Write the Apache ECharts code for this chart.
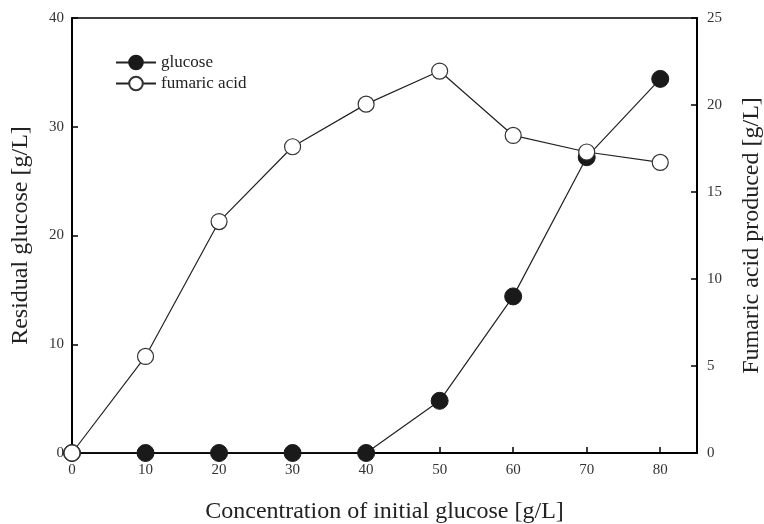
<!DOCTYPE html>
<html><head><meta charset="utf-8">
<script src="https://cdn.jsdelivr.net/npm/echarts@6/dist/echarts.min.js"></script>
<style>html,body{margin:0;padding:0;background:#fff}#c{width:764px;height:524px}</style>
</head><body><div id="c"></div>
<script>
const xValues = [0, 10, 20, 30, 40, 50, 60, 70, 80];
const glucose = [0, 0, 0, 0, 0, 4.8, 14.4, 27.2, 34.4];
const fumaric = [0, 5.55, 13.3, 17.6, 20.05, 21.95, 18.25, 17.3, 16.7];
const xTitle = 'Concentration of initial glucose [g/L]';
const yLeftTitle = 'Residual glucose [g/L]';
const yRightTitle = 'Fumaric acid produced [g/L]';

const font = 'Liberation Serif, Times New Roman, serif';
const chart = echarts.init(document.getElementById('c'));
const axisCommon = {
  axisLine: {show: true, lineStyle: {color: '#000', width: 2}},
  axisTick: {show: true, inside: true, length: 6, lineStyle: {color: '#000', width: 1.5}},
  splitLine: {show: false},
  axisLabel: {fontFamily: font, fontSize: 15, color: '#333'},
  nameTextStyle: {fontFamily: font, fontSize: 24, color: '#222'}
};
chart.setOption({
  animation: false,
  backgroundColor: '#fff',
  grid: {left: 72, right: 67, top: 18, bottom: 71, containLabel: false, outerBoundsMode: 'none',
         show: true, borderColor: '#000', borderWidth: 1.5},
  legend: {
    left: 110, top: 49, orient: 'vertical', itemGap: 4, itemWidth: 40, itemHeight: 17,
    textStyle: {fontFamily: font, fontSize: 17, color: '#222'},
    data: ['glucose', 'fumaric acid']
  },
  xAxis: Object.assign({}, axisCommon, {
    type: 'value', min: 0, max: 85, interval: 10,
    name: xTitle, nameLocation: 'middle', nameGap: 47,
    axisLabel: Object.assign({}, axisCommon.axisLabel, {margin: 10, formatter: v => v > 80 ? '' : v}),
    axisTick: Object.assign({}, axisCommon.axisTick, {customValues: xValues})
  }),
  yAxis: [
    Object.assign({}, axisCommon, {
      type: 'value', min: 0, max: 40, interval: 10, position: 'left',
      name: yLeftTitle, nameLocation: 'middle', nameGap: 39, nameRotate: 90,
      axisLabel: Object.assign({}, axisCommon.axisLabel, {margin: 8})
    }),
    Object.assign({}, axisCommon, {
      type: 'value', min: 0, max: 25, interval: 5, position: 'right',
      name: yRightTitle, nameLocation: 'middle', nameGap: 43, nameRotate: 90,
      axisLabel: Object.assign({}, axisCommon.axisLabel, {margin: 10})
    })
  ],
  series: [
    {
      name: 'glucose', type: 'line', yAxisIndex: 0,
      data: xValues.map((x, i) => [x, glucose[i]]),
      symbol: 'circle', symbolSize: 17, z: 2,
      lineStyle: {color: '#222', width: 1.2},
      itemStyle: {color: '#1a1a1a', borderColor: '#1a1a1a', borderWidth: 1}
    },
    {
      name: 'fumaric acid', type: 'line', yAxisIndex: 1,
      data: xValues.map((x, i) => [x, fumaric[i]]),
      symbol: 'circle', symbolSize: 16, z: 3,
      lineStyle: {color: '#222', width: 1.2},
      itemStyle: {color: '#fff', borderColor: '#333', borderWidth: 1.2}
    }
  ]
});
</script></body></html>
